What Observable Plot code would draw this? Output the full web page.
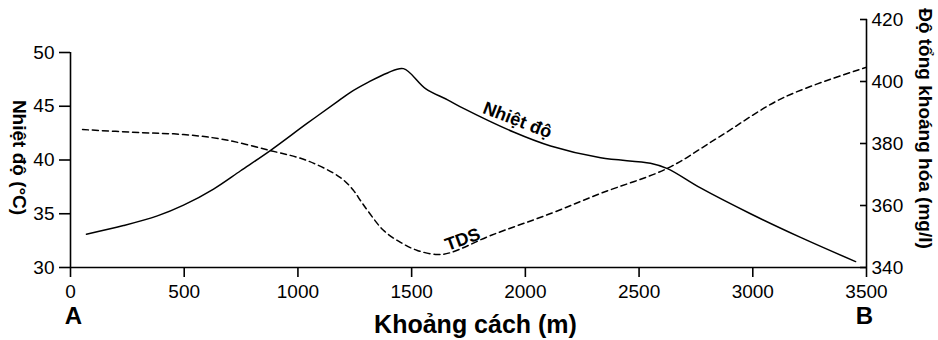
<!DOCTYPE html>
<html><head><meta charset="utf-8">
<script src="https://cdn.jsdelivr.net/npm/d3@7"></script>
<script src="https://cdn.jsdelivr.net/npm/@observablehq/plot@0.6"></script>
<style>body{margin:0;background:#fff}</style>
</head><body><div id="chart"></div>
<script>
// Temperature profile (solid line)
const distTemp = [70, 233, 382, 497, 629, 748, 880, 1040, 1178, 1231, 1306, 1394, 1464, 1561, 1658, 1728, 1948, 2111, 2331, 2550, 2625, 2770, 2990, 3210, 3452];
const temp     = [33.1, 33.9, 34.8, 35.8, 37.3, 39.0, 40.9, 43.4, 45.5, 46.3, 47.2, 48.1, 48.5, 46.65, 45.6, 44.8, 42.6, 41.3, 40.2, 39.7, 39.2, 37.4, 35.0, 32.8, 30.55];
// TDS profile (dashed line)
const distTDS = [53, 308, 497, 673, 880, 1040, 1187, 1245, 1275, 1306, 1376, 1451, 1525, 1612, 1671, 1847, 2111, 2331, 2625, 2845, 3135, 3496];
const tds     = [384.5, 383.5, 382.9, 381.3, 377.7, 374.5, 369.0, 364.8, 361.6, 358.4, 352.0, 348.1, 345.5, 344.2, 344.8, 350.3, 357.4, 363.9, 372.0, 381.8, 394.8, 404.5];

const xTicks = [0, 500, 1000, 1500, 2000, 2500, 3000, 3500];
const tempTicks = [30, 35, 40, 45, 50];
const tdsTicks = [340, 360, 380, 400, 420];

const tempMin = 30, tempMax = 50, tdsMin = 340, tdsMax = 420;
// the right axis (TDS) is taller than the left one on the shared frame
const yTop = tempMin + (tempMax - tempMin) * 248 / 215;
const tdsToY = v => tempMin + (v - tdsMin) / (tdsMax - tdsMin) * (yTop - tempMin);
const yToTds = y => tdsMin + (y - tempMin) / (yTop - tempMin) * (tdsMax - tdsMin);

const tempData = distTemp.map((d, i) => ({d, v: temp[i]}));
const tdsData = distTDS.map((d, i) => ({d, v: tdsToY(tds[i])}));

const font = "'Liberation Sans', Arial, Helvetica, sans-serif";
const lbl = {textAnchor: "middle", lineAnchor: "middle", fontWeight: "bold"};
const plot = Plot.plot({
  width: 938, height: 340,
  marginLeft: 70, marginRight: 72, marginTop: 19, marginBottom: 73,
  style: {fontFamily: font, fontSize: "19px", color: "#000", background: "#fff", overflow: "visible"},
  x: {domain: [0, 3500]},
  y: {domain: [tempMin, yTop]},
  marks: [
    Plot.ruleY([tempMin], {x1: 0, x2: 3500, strokeWidth: 1.6}),
    Plot.ruleX([0], {y1: tempMin, y2: tempMax, strokeWidth: 1.6}),
    Plot.ruleX([3500], {y1: tempMin, y2: yTop, strokeWidth: 1.6}),
    Plot.axisX({ticks: xTicks, tickSize: 10, tickPadding: 7, fontSize: 19, label: null, tickFormat: d => String(d), strokeWidth: 1.6}),
    Plot.axisY({ticks: tempTicks, anchor: "left", tickSize: 11, tickPadding: 5, fontSize: 19, label: null, strokeWidth: 1.6}),
    Plot.axisY({ticks: tdsTicks.map(tdsToY), anchor: "right", tickSize: 7, dx: -7, fill: "none", label: null, strokeWidth: 1.6}),
    Plot.axisY({ticks: tdsTicks.map(tdsToY), anchor: "right", tickSize: 0, tickPadding: 5, fontSize: 19, label: null,
      tickFormat: d => String(Math.round(yToTds(d)))}),
    Plot.line(tempData, {x: "d", y: "v", curve: "catmull-rom", strokeWidth: 1.5}),
    Plot.line(tdsData, {x: "d", y: "v", curve: "catmull-rom", strokeWidth: 1.5, strokeDasharray: "6,4"}),
    Plot.text([{d: 1965, v: 43.7, label: "Nhiệt độ"}], {x: "d", y: "v", text: "label", rotate: 21, fontSize: 18, ...lbl}),
    Plot.text([{d: 1724, v: 32.6, label: "TDS"}], {x: "d", y: "v", text: "label", rotate: -20, fontSize: 18, ...lbl}),
    Plot.text(["A"], {text: d => d, frameAnchor: "bottom-left", dx: 3, dy: 49, fontSize: 24, ...lbl}),
    Plot.text(["B"], {text: d => d, frameAnchor: "bottom-right", dx: -2, dy: 49, fontSize: 24, ...lbl}),
    Plot.text(["Khoảng cách (m)"], {text: d => d, frameAnchor: "bottom", dx: 7, dy: 57, fontSize: 25, ...lbl}),
    Plot.text(["Nhiệt độ (°C)"], {text: d => d, frameAnchor: "left", dx: -51, dy: 14, rotate: 90, fontSize: 19, ...lbl}),
    Plot.text(["Độ tổng khoáng hóa (mg/l)"], {text: d => d, frameAnchor: "right", dx: 59, dy: -15, rotate: 90, fontSize: 19, ...lbl})
  ]
});
document.getElementById("chart").appendChild(plot);
</script>
</body></html>
